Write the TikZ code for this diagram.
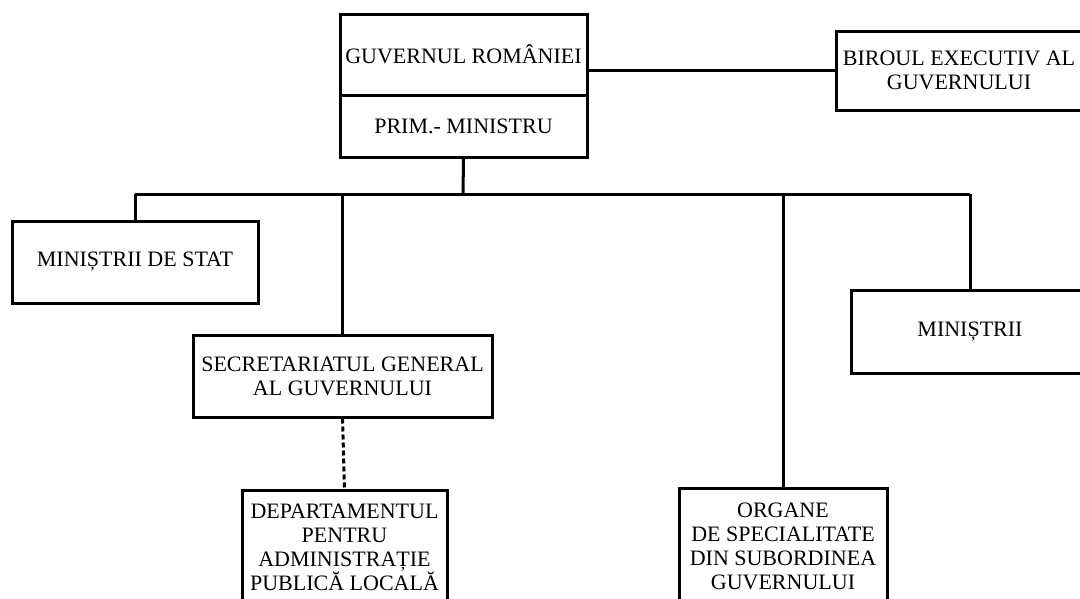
\documentclass[tikz,border=0pt]{standalone}
\usepackage{fontspec}
\setmainfont{Liberation Serif}
\begin{document}
\begin{tikzpicture}[x=1pt,y=-1pt,
  box/.style={draw, line width=3pt, inner sep=0pt, align=center, font=\fontsize{22}{24}\selectfont},
  conn/.style={line width=3pt},
  dconn/.style={line width=3pt, dash pattern=on 5pt off 3pt}]
\useasboundingbox (0,0) rectangle (1080,598);
\clip (0,0) rectangle (1080,598);
% nodes (center positions, explicit sizes)
\node[box, minimum width=247pt, minimum height=81pt] (guv) at (463.5,54.5) {GUVERNUL ROMÂNIEI};
\node[box, minimum width=247pt, minimum height=62pt] (prim) at (463.5,126) {PRIM.- MINISTRU};
\node[box, minimum width=246pt, minimum height=79pt] (birou) at (959,70.5) {BIROUL EXECUTIV AL\\GUVERNULUI};
\node[box, minimum width=246pt, minimum height=82pt] (mstat) at (135,262) {MINIȘTRII DE STAT};
\node[box, minimum width=299pt, minimum height=82pt] (sec) at (342.5,376) {SECRETARIATUL GENERAL\\AL GUVERNULUI};
\node[box, minimum width=238pt, minimum height=83pt] (min) at (970,331.5) {MINIȘTRII};
\node[box, minimum width=205pt, minimum height=114pt] (dep) at (344.5,547) {DEPARTAMENTUL\\PENTRU\\ADMINISTRAȚIE\\PUBLICĂ LOCALĂ};
\node[box, minimum width=208pt, minimum height=116pt] (org) at (783,546) {ORGANE\\DE SPECIALITATE\\DIN SUBORDINEA\\GUVERNULUI};
% bus
\coordinate (bus) at (463,194);
\coordinate (busL) at (135,194);
\coordinate (busR) at (970,194);
\draw[conn] (birou.west -| guv.east) -- (birou.west);
\draw[conn] (prim.south) -- (bus);
\draw[conn] (busL) -- (busR);
\draw[conn] (busL) -- (mstat.north);
\draw[conn] (sec.north |- bus) -- (sec.north);
\draw[conn] (org.north |- bus) -- (org.north);
\draw[conn] (busR) -- (min.north);
\draw[dconn] (sec.south) -- (dep.north);
\end{tikzpicture}
\end{document}
